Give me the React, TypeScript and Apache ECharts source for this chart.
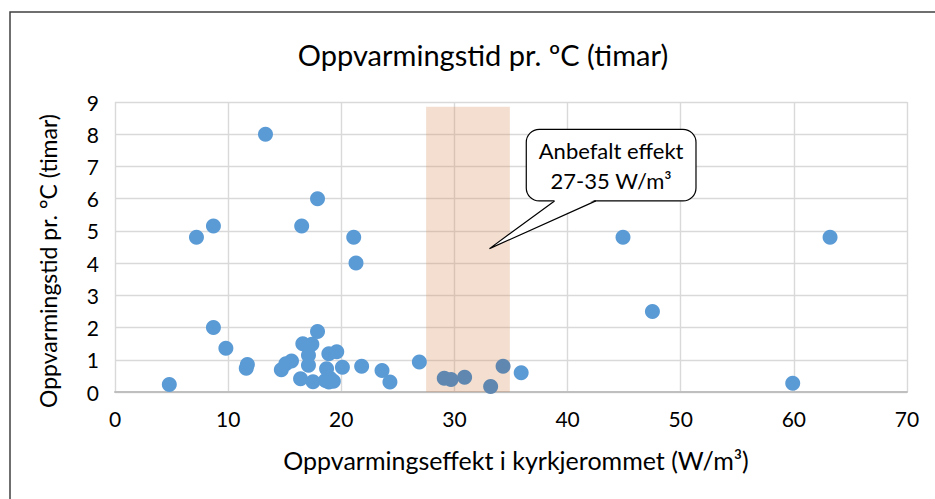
import React, { useEffect, useRef } from "react";
import * as echarts from "echarts";

// Oppvarmingseffekt i kyrkjerommet (W/m³)
const effect = [
  4.8, 7.2, 8.7, 8.7, 9.8, 11.6, 11.7, 13.3, 14.7, 15.1, 15.6, 16.4, 16.5, 16.6,
  17.1, 17.1, 17.4, 17.5, 17.9, 17.9, 18.6, 18.7, 18.9, 18.9, 19.0, 19.6, 19.3,
  20.1, 21.1, 21.3, 21.8, 23.6, 24.3, 26.9, 29.1, 29.7, 30.9, 33.2, 34.3, 35.9,
  44.9, 47.5, 59.9, 63.2,
];
// Oppvarmingstid pr. °C (timar)
const hours = [
  0.23, 4.8, 5.15, 2.0, 1.36, 0.74, 0.85, 8.0, 0.69, 0.88, 0.96, 0.41, 5.15, 1.5,
  1.14, 0.83, 1.48, 0.32, 1.88, 6.0, 0.36, 0.72, 0.31, 1.19, 0.43, 1.25, 0.33,
  0.77, 4.8, 4.0, 0.8, 0.67, 0.31, 0.93, 0.43, 0.39, 0.46, 0.17, 0.8, 0.6, 4.8,
  2.5, 0.27, 4.8,
];

const xMin = 0;
const xMax = 70;
const xStep = 10;
const yMin = 0;
const yMax = 9;
const yStep = 1;

// recommended effect band
const bandFrom = 27.5;
const bandTo = 34.9;
const bandTop = 8.85;

const chartTitle = "Oppvarmingstid pr. ºC (timar)";
const xName = "Oppvarmingseffekt i kyrkjerommet (W/m³)";
const yName = "Oppvarmingstid pr. °C (timar)";
const calloutLines = ["Anbefalt effekt", "27-35 W/m³"];

// callout anchors in data space
const calloutTip = [33.1, 4.45];
const calloutBox = [36.35, 8.15, 51.35, 5.93];
const calloutBase = [38.85, 42.5];

const FONT = "Lato, 'Noto Sans', 'DejaVu Sans', sans-serif";
const POINT = "#5B9BD5";
const POINT_IN_BAND = "#6087AF";

export default function App() {
  const ref = useRef<HTMLDivElement>(null);

  useEffect(() => {
    document.body.style.margin = "0";
    const el = ref.current!;
    const chart = echarts.init(el, null, { renderer: "svg" });

    const data = effect.map((x, i) => [x, hours[i]]);

    chart.setOption({
      animation: false,
      backgroundColor: "#ffffff",
      title: {
        text: chartTitle,
        left: 478,
        top: 35,
        textAlign: "center",
        textStyle: {
          fontFamily: FONT,
          fontWeight: "normal",
          fontSize: 29,
          color: "#000000",
        },
      },
      grid: { left: 115, right: 28, top: 102, bottom: 107 },
      xAxis: {
        type: "value",
        min: xMin,
        max: xMax,
        interval: xStep,
        name: xName,
        nameLocation: "middle",
        nameGap: 55,
        nameTextStyle: {
          fontFamily: FONT,
          fontSize: 25,
          color: "#000000",
          padding: [0, 0, 0, 10],
        },
        axisLine: { show: true, lineStyle: { color: "#BFBFBF", width: 2 } },
        axisTick: { show: false },
        axisLabel: { fontFamily: FONT, fontSize: 21, color: "#000000", margin: 16 },
        splitLine: { show: true, lineStyle: { color: "#D9D9D9", width: 1.4 } },
      },
      yAxis: {
        type: "value",
        min: yMin,
        max: yMax,
        interval: yStep,
        name: yName,
        nameLocation: "middle",
        nameGap: 56,
        nameTextStyle: {
          fontFamily: FONT,
          fontSize: 23,
          color: "#000000",
          padding: [0, 28, 0, 0],
        },
        axisLine: { show: false },
        axisTick: { show: false },
        axisLabel: { fontFamily: FONT, fontSize: 21, color: "#000000", margin: 16 },
        splitLine: { show: true, lineStyle: { color: "#D9D9D9", width: 1.4 } },
      },
      series: [
        {
          type: "line",
          data: [],
          z: 1,
          silent: true,
          markArea: {
            silent: true,
            itemStyle: { color: "rgba(215,145,98,0.3)" },
            data: [[{ xAxis: bandFrom, yAxis: 0 }, { xAxis: bandTo, yAxis: bandTop }]],
          },
        },
        {
          type: "scatter",
          z: 3,
          symbol: "circle",
          symbolSize: 15,
          data,
          itemStyle: {
            opacity: 1,
            color: (p: any) => {
              const [x, y] = p.value as number[];
              return x >= bandFrom && x <= bandTo && y <= bandTop ? POINT_IN_BAND : POINT;
            },
          },
        },
      ],
    });

    const px = (v: number[]) => chart.convertToPixel({ gridIndex: 0 }, v) as number[];
    const tip = px(calloutTip);
    const tl = px([calloutBox[0], calloutBox[1]]);
    const br = px([calloutBox[2], calloutBox[3]]);
    const b1 = px([calloutBase[0], calloutBox[3]]);
    const b2 = px([calloutBase[1], calloutBox[3]]);
    const cx = (tl[0] + br[0]) / 2;
    const cy = (tl[1] + br[1]) / 2;

    chart.setOption({
      graphic: [
        {
          type: "rect",
          z: 100,
          shape: { x: 10, y: 12, width: 950, height: 520 },
          style: { fill: "none", stroke: "#404040", lineWidth: 1.5 },
          silent: true,
        },
        {
          type: "rect",
          z: 110,
          shape: { x: tl[0], y: tl[1], width: br[0] - tl[0], height: br[1] - tl[1], r: 13 },
          style: { fill: "#ffffff", stroke: "#000000", lineWidth: 1.2 },
        },
        {
          type: "polygon",
          z: 111,
          shape: { points: [[b1[0] + 0.8, b1[1] - 1.2], [tip[0], tip[1]], [b2[0] - 0.8, b2[1] - 1.2]] },
          style: { fill: "#ffffff", stroke: "none" },
        },
        {
          type: "polyline",
          z: 112,
          shape: { points: [[b1[0], b1[1]], [tip[0], tip[1]], [b2[0], b2[1]]] },
          style: { fill: "none", stroke: "#000000", lineWidth: 1.2 },
        },
        {
          type: "text",
          z: 113,
          x: cx,
          y: cy - 15,
          style: {
            text: calloutLines[0],
            fontFamily: FONT,
            fontSize: 22,
            fill: "#000000",
            align: "center",
            verticalAlign: "middle",
          },
        },
        {
          type: "text",
          z: 113,
          x: cx,
          y: cy + 15,
          style: {
            text: calloutLines[1],
            fontFamily: FONT,
            fontSize: 22,
            fill: "#000000",
            align: "center",
            verticalAlign: "middle",
          },
        },
      ],
    });

    return () => chart.dispose();
  }, []);

  return <div ref={ref} style={{ width: 935, height: 499 }} />;
}
